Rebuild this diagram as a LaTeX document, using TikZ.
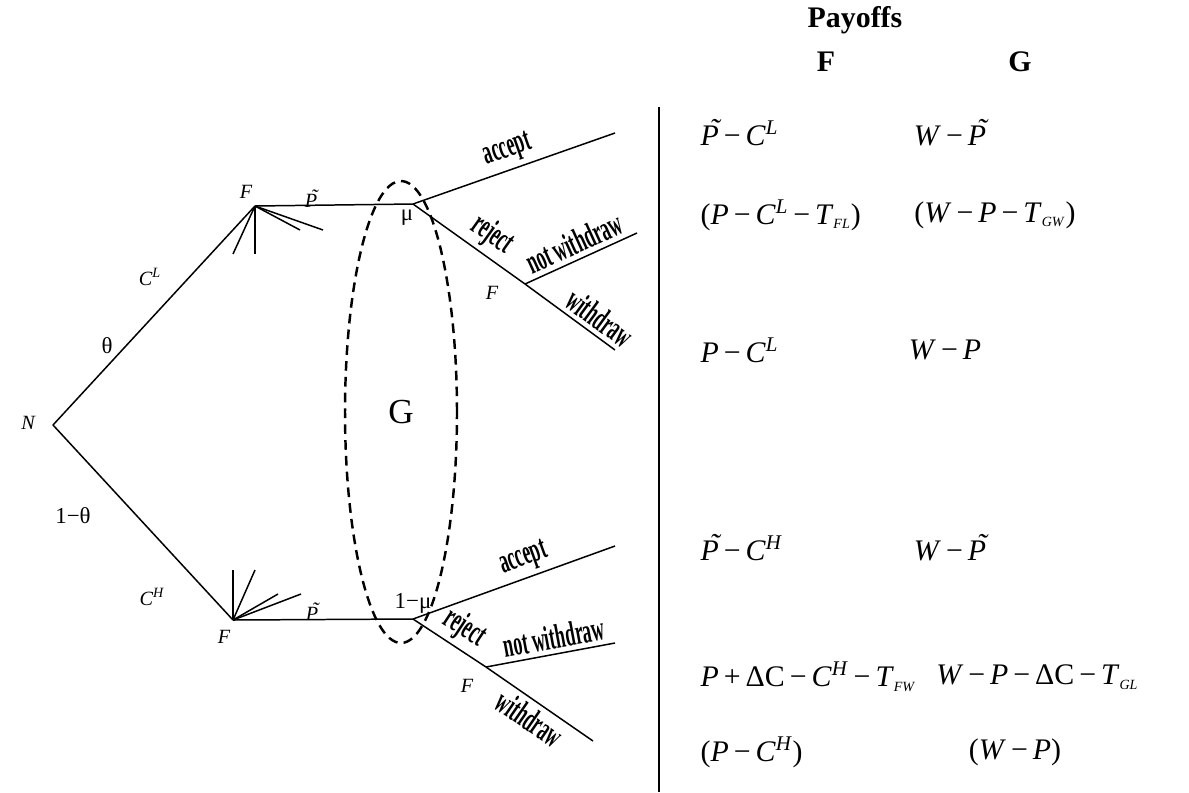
\documentclass[tikz,border=0pt]{standalone}
\usepackage{fontspec}
\setmainfont{Liberation Serif}
\usetikzlibrary{positioning,shapes.geometric}

\newcommand{\tP}{{\itshape\makebox[0pt][l]{\hspace{0.3em}\raisebox{0.2em}{˜}}P}}
\newcommand{\sups}[1]{\textsuperscript{\textit{#1}}}
\newcommand{\subs}[1]{\textsubscript{\textit{\footnotesize #1}}}
\newcommand{\mn}{\,−\,}
\newcommand{\actlbl}[1]{\scalebox{0.7}[1.35]{\bfseries #1}}

\begin{document}
\begin{tikzpicture}[
  x=0.02cm,
  y=-0.02cm,
  line width=0.85pt,
  every node/.style={font=\fontsize{11.5}{13}\selectfont\itshape},
  infoset/.style={
    draw,
    ellipse,
    dashed,
    line width=1.4pt,
    dash pattern=on 5.5pt off 3.5pt,
    minimum width=2.24cm,
    minimum height=9.24cm,
    font=\fontsize{20}{24}\selectfont\upshape,
  },
  act/.style={sloped, inner sep=2.5pt, font=\fontsize{14.5}{16}\selectfont},
  greek/.style={font=\fontsize{13}{15}\selectfont\upshape},
  pay/.style={font=\fontsize{17}{20}\selectfont},
  head/.style={font=\fontsize{17}{20}\selectfont\bfseries},
]
\useasboundingbox (0,0) rectangle (1189,792);

% tree nodes
\coordinate (N) at (53,425);
\coordinate (FL) at (255,206);
\coordinate (FH) at (233,620);
\coordinate (GL) at (413,204);
\coordinate (GH) at (413,619);
\coordinate (RL) at (525,284);
\coordinate (RH) at (486,667);
\coordinate (aL) at (615,133);
\coordinate (nwL) at (637,233);
\coordinate (wL) at (615,350);
\coordinate (aH) at (615,546);
\coordinate (nwH) at (615,643);
\coordinate (wH) at (593,741);
\coordinate (fanL1) at (233,254);
\coordinate (fanL2) at (255,254);
\coordinate (fanL3) at (300,230);
\coordinate (fanL4) at (323,230);
\coordinate (fanH1) at (233,570);
\coordinate (fanH2) at (255,570);
\coordinate (fanH3) at (278,594);
\coordinate (fanH4) at (301,594);

% information set of G
\node[infoset] (G) at (401,412) {G};

% branches
\draw (N) -- (FL);
\draw (N) -- (FH);
\draw (FL) -- (GL);
\draw (FH) -- (GH);
\draw (FL) -- (fanL1);
\draw (FL) -- (fanL2);
\draw (FL) -- (fanL3);
\draw (FL) -- (fanL4);
\draw (FH) -- (fanH1);
\draw (FH) -- (fanH2);
\draw (FH) -- (fanH3);
\draw (FH) -- (fanH4);
\draw (GL) -- node[act, above, pos=0.5] {\actlbl{accept}} (aL);
\draw (GL) -- node[act, above, pos=0.6] {\actlbl{reject}} (RL);
\draw (RL) -- node[act, above, pos=0.5] {\actlbl{not withdraw}} (nwL);
\draw (RL) -- node[act, above, pos=0.72] {\actlbl{withdraw}} (wL);
\draw (GH) -- node[act, above, pos=0.58] {\actlbl{accept}} (aH);
\draw (GH) -- node[act, above, pos=0.55] {\actlbl{reject}} (RH);
\draw (RH) -- node[act, above, pos=0.55] {\actlbl{not withdraw}} (nwH);
\draw (RH) -- node[act, below, pos=0.5] {\actlbl{withdraw}} (wH);

% labels
\node (lN) at (28,423) {N};
\node (lCL) at (150,277) {C\sups{L}};
\node[greek] (lth) at (107,346) {θ};
\node[greek] (lth1) at (73,516) {1−θ};
\node (lCH) at (152,597) {C\sups{H}};
\node (lFL) at (246,192) {F};
\node (lFH) at (224,637) {F};
\node (lPL) at (311,199) {\tP};
\node (lPH) at (312,612) {\tP};
\node[greek] (lmu) at (407,218) {μ};
\node[greek] (lmu1) at (413,603) {1−μ};
\node (lRL) at (492,293) {F};
\node (lRH) at (467,686) {F};

% payoffs
\coordinate (vtop) at (659,107);
\coordinate (vbot) at (659,792);
\draw (vtop) -- (vbot);
\node[head] (hpay) at (855,20) {Payoffs};
\node[head] (hF) at (826,62) {F};
\node[head] (hG) at (1020,62) {G};
\node[pay, anchor=west] (p1F) at (694,133) {\tP\mn\textit{C}\sups{L}};
\node[pay] (p1G) at (950,133) {\textit{W}\mn\tP};
\node[pay, anchor=west] (p2F) at (694,215) {(\textit{P}\mn\textit{C}\sups{L}\mn\textit{T}\subs{FL})};
\node[pay] (p2G) at (995,215) {(\textit{W}\mn\textit{P}\mn\textit{T}\subs{GW})};
\node[pay, anchor=west] (p3F) at (694,350) {\textit{P}\mn\textit{C}\sups{L}};
\node[pay] (p3G) at (945,350) {\textit{W}\mn\textit{P}};
\node[pay, anchor=west] (p4F) at (694,548) {\tP\mn\textit{C}\sups{H}};
\node[pay] (p4G) at (950,548) {\textit{W}\mn\tP};
\node[pay, anchor=west] (p5F) at (694,677) {\textit{P}\,+\,ΔC\mn\textit{C}\sups{H}\mn\textit{T}\subs{FW}};
\node[pay, anchor=east] (p5G) at (1145,677) {\textit{W}\mn\textit{P}\mn ΔC\mn\textit{T}\subs{GL}};
\node[pay, anchor=west] (p6F) at (694,752) {(\textit{P}\mn\textit{C}\sups{H})};
\node[pay] (p6G) at (1015,752) {(\textit{W}\mn\textit{P})};
\end{tikzpicture}
\end{document}
